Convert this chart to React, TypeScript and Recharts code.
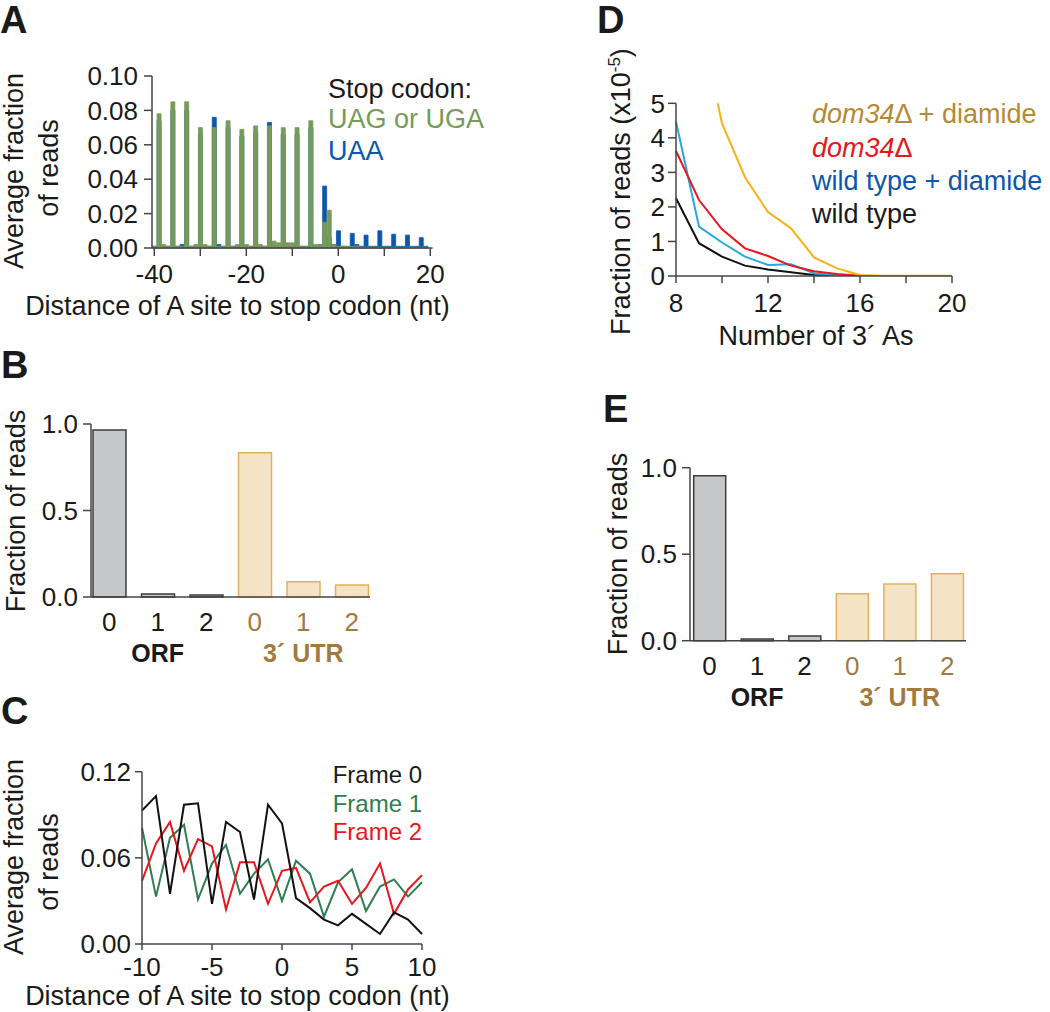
import { BarChart, Bar, LineChart, Line, XAxis, YAxis, Cell } from "recharts";

const FONT = '"Liberation Sans", Arial, Helvetica, sans-serif';
const INK = "#1a1a1a";
const AXIS = "#444";

// ---- Panel A: reads around stop codon, by stop codon type ----
const stopDistance = [
  -40, -39, -38, -37, -36, -35, -34, -33, -32, -31, -30, -29, -28, -27, -26, -25,
  -24, -23, -22, -21, -20, -19, -18, -17, -16, -15, -14, -13, -12, -11, -10, -9,
  -8, -7, -6, -5, -4, -3, -2, -1, 0, 1, 2, 3, 4, 5, 6, 7, 8, 9, 10, 11, 12, 13,
  14, 15, 16, 17, 18, 19, 20,
];
const uagUga = [
  0.001, 0.078, 0.002, 0.001, 0.085, 0.001, 0.001, 0.085, 0.001, 0.002, 0.07, 0.002,
  0.001, 0.07, 0.001, 0.001, 0.074, 0.001, 0.002, 0.069, 0.002, 0.001, 0.071, 0.002,
  0.001, 0.071, 0.004, 0.003, 0.07, 0.003, 0.003, 0.07, 0.001, 0.001, 0.074, 0.002,
  0.002, 0.015, 0.022, 0.002, 0.001, 0.001, 0.0008, 0.0008, 0.001, 0.0005, 0.0005,
  0.0005, 0.0005, 0.0005, 0.0005, 0.0005, 0.0005, 0.0005, 0.0005, 0.0005, 0.0005,
  0.0005, 0.0005, 0.0005, 0,
];
const uaa = [
  0.001, 0.074, 0.001, 0.001, 0.08, 0.001, 0.002, 0.08, 0.001, 0.001, 0.066, 0.001,
  0.001, 0.076, 0.002, 0.001, 0.07, 0.001, 0.001, 0.065, 0.001, 0.001, 0.067, 0.001,
  0.001, 0.073, 0.002, 0.001, 0.066, 0.001, 0.001, 0.066, 0.001, 0.001, 0.07, 0.001,
  0.002, 0.036, 0.006, 0.002, 0.01, 0.001, 0.001, 0.0085, 0.002, 0.001, 0.0075, 0.001,
  0.001, 0.01, 0.001, 0.001, 0.008, 0.001, 0.001, 0.0075, 0.001, 0.001, 0.006, 0.001, 0,
];
const fractionTicksA = [0, 0.02, 0.04, 0.06, 0.08, 0.1];
const distanceTicksA = [-40, -30, -20, -10, 0, 10, 20];
const distanceLabelsA = [-40, -20, 0, 20];

// ---- Panels B & E: reading frame ----
const frameLabels = ["0", "1", "2", "0", "1", "2"];
const frameGroups = ["ORF", "ORF", "ORF", "3´ UTR", "3´ UTR", "3´ UTR"];
const frameFractionB = [0.965, 0.017, 0.012, 0.834, 0.088, 0.069];
const frameFractionE = [0.954, 0.01, 0.027, 0.272, 0.328, 0.387];
const fractionTicksBE = [0, 0.5, 1];

// ---- Panel C: frames around stop codon ----
const distanceC = [-10, -9, -8, -7, -6, -5, -4, -3, -2, -1, 0, 1, 2, 3, 4, 5, 6, 7, 8, 9, 10];
const frame0 = [
  0.093, 0.103, 0.035, 0.097, 0.098, 0.028, 0.085, 0.078, 0.031, 0.097, 0.084, 0.032,
  0.025, 0.017, 0.013, 0.021, 0.014, 0.007, 0.022, 0.017, 0.007,
];
const frame1 = [
  0.081, 0.033, 0.074, 0.083, 0.031, 0.056, 0.069, 0.035, 0.049, 0.059, 0.03, 0.058,
  0.049, 0.019, 0.043, 0.052, 0.023, 0.04, 0.045, 0.033, 0.043,
];
const frame2 = [
  0.044, 0.07, 0.085, 0.051, 0.073, 0.068, 0.024, 0.057, 0.057, 0.028, 0.051, 0.053,
  0.029, 0.04, 0.044, 0.028, 0.039, 0.056, 0.021, 0.038, 0.048,
];
const fractionTicksC = [0, 0.06, 0.12];
const distanceTicksC = [-10, -5, 0, 5, 10];

// ---- Panel D: poly(A) length ----
const numberOfAs = [8, 9, 10, 11, 12, 13, 14, 15, 16, 17, 18, 19, 20];
const dom34Diamide = [12, 7.5, 4.42, 2.86, 1.85, 1.38, 0.54, 0.22, 0.03, 0.01, 0.01, 0.01, 0.01];
const dom34 = [3.62, 2.2, 1.35, 0.8, 0.58, 0.3, 0.14, 0.06, 0.01, 0, 0, 0, 0];
const wildTypeDiamide = [4.47, 1.43, 0.97, 0.56, 0.32, 0.34, 0.08, 0.02, 0, 0, 0, 0, 0];
const wildType = [2.25, 0.95, 0.56, 0.3, 0.19, 0.11, 0.03, 0.01, 0, 0, 0, 0, 0];
const readTicksD = [0, 1, 2, 3, 4, 5];
const asTicksD = [8, 10, 12, 14, 16, 18, 20];
const asLabelsD = [8, 12, 16, 20];

const groupStyle: Record<string, { fill: string; stroke: string; text: string }> = {
  ORF: { fill: "#c6c7c9", stroke: "#3c3c3c", text: INK },
  "3´ UTR": { fill: "#f4e4c5", stroke: "#e2b15c", text: "#a27a3e" },
};

const dataA = stopDistance.map((d, i) => ({ d, green: uagUga[i], blue: uaa[i] }));
const frameData = (vals: number[]) =>
  frameLabels.map((f, i) => ({ key: `${frameGroups[i]}-${f}`, value: vals[i] }));
const dataB = frameData(frameFractionB);
const dataE = frameData(frameFractionE);
const dataC = distanceC.map((d, i) => ({ d, f0: frame0[i], f1: frame1[i], f2: frame2[i] }));
const dataD = numberOfAs.map((n, i) => ({
  n,
  dd: dom34Diamide[i],
  dm: dom34[i],
  wd: wildTypeDiamide[i],
  wt: wildType[i],
}));

const TICK_FS = 26;
const tickText = { fill: INK, fontSize: TICK_FS };
const axisLine = { stroke: AXIS, strokeWidth: 1.5 };
const tickLine = { stroke: AXIS, strokeWidth: 1.5 };

function DistanceTickA(p: any) {
  const v = p.payload.value;
  if (!distanceTicksA.includes(v)) return <g />;
  return (
    <g>
      <line x1={p.x} x2={p.x} y1={p.y} y2={p.y + 8} stroke={AXIS} strokeWidth={1.5} />
      {distanceLabelsA.includes(v) && (
        <text x={p.x} y={p.y + 35} textAnchor="middle" fontSize={TICK_FS} fill={INK}>
          {v}
        </text>
      )}
    </g>
  );
}

function makeFrameTick(data: { key: string }[]) {
  return (p: any) => {
    const i = data.findIndex((d) => d.key === p.payload.value);
    const g = frameGroups[i];
    const st = groupStyle[g];
    const mid = frameGroups[i - 1] === g && frameGroups[i + 1] === g;
    return (
      <g>
        <text x={p.x} y={p.y + 34} textAnchor="middle" fontSize={TICK_FS} fill={st.text}>
          {frameLabels[i]}
        </text>
        {mid && (
          <text x={p.x} y={p.y + 65} textAnchor="middle" fontSize={25} fontWeight="bold" fill={st.text}>
            {g}
          </text>
        )}
      </g>
    );
  };
}

function FrameBars({
  data,
  width,
  height,
  margin,
  yWidth,
  xHeight,
  pad,
  barSize,
}: {
  data: { key: string; value: number }[];
  width: number;
  height: number;
  margin: any;
  yWidth: number;
  xHeight: number;
  pad: { left: number; right: number };
  barSize: number;
}) {
  return (
    <BarChart width={width} height={height} data={data} margin={margin}>
      <XAxis
        dataKey="key"
        height={xHeight}
        interval={0}
        tickSize={0}
        tickMargin={0}
        tickLine={false}
        axisLine={axisLine}
        padding={pad}
        tick={makeFrameTick(data)}
      />
      <YAxis
        domain={[0, 1]}
        ticks={fractionTicksBE}
        interval={0}
        width={yWidth}
        tickSize={8}
        tickMargin={5}
        tickFormatter={(v: number) => v.toFixed(1)}
        tick={tickText}
        axisLine={axisLine}
        tickLine={tickLine}
      />
      <Bar dataKey="value" barSize={barSize} strokeWidth={1.5} isAnimationActive={false}>
        {data.map((d, i) => (
          <Cell
            key={d.key}
            fill={groupStyle[frameGroups[i]].fill}
            stroke={groupStyle[frameGroups[i]].stroke}
          />
        ))}
      </Bar>
    </BarChart>
  );
}

const abs = (left: number, top: number) =>
  ({ position: "absolute", left, top } as React.CSSProperties);

export default function App() {
  return (
    <div
      style={{
        position: "absolute",
        left: 0,
        top: 0,
        width: 1050,
        height: 1012,
        background: "#fff",
        fontFamily: FONT,
        color: INK,
      }}
    >
      {/* A */}
      <div style={abs(0, 0)}>
        <BarChart width={480} height={330} data={dataA} margin={{ top: 76, right: 47.4, bottom: 0, left: 0 }}>
          <XAxis
            xAxisId="a"
            dataKey="d"
            height={82}
            interval={0}
            tickSize={0}
            tickMargin={0}
            tickLine={false}
            axisLine={axisLine}
            tick={DistanceTickA}
          />
          <XAxis xAxisId="b" dataKey="d" hide />
          <YAxis
            domain={[0, 0.1]}
            ticks={fractionTicksA}
            interval={0}
            width={152}
            tickSize={8}
            tickMargin={6}
            tickFormatter={(v: number) => v.toFixed(2)}
            tick={tickText}
            axisLine={axisLine}
            tickLine={tickLine}
          />
          <Bar
            xAxisId="b"
            dataKey="blue"
            fill="#0b57ae"
            stroke="#0b57ae"
            strokeWidth={0.8}
            isAnimationActive={false}
          />
          <Bar
            xAxisId="a"
            dataKey="green"
            fill="#779a5b"
            stroke="#779a5b"
            strokeWidth={0.8}
            isAnimationActive={false}
          />
        </BarChart>
      </div>

      {/* B */}
      <div style={abs(0, 330)}>
        <FrameBars
          data={dataB}
          width={480}
          height={345}
          margin={{ top: 94, right: 110, bottom: 0, left: 0 }}
          yWidth={91}
          xHeight={78}
          pad={{ left: -6, right: -6 }}
          barSize={33}
        />
      </div>

      {/* C */}
      <div style={abs(0, 680)}>
        <LineChart width={480} height={332} data={dataC} margin={{ top: 91.7, right: 58, bottom: 0, left: 0 }}>
          <XAxis
            dataKey="d"
            type="number"
            domain={[-10, 10]}
            ticks={distanceTicksC}
            interval={0}
            height={68}
            tickSize={6}
            tickMargin={8}
            tick={tickText}
            axisLine={axisLine}
            tickLine={tickLine}
          />
          <YAxis
            domain={[0, 0.12]}
            ticks={fractionTicksC}
            interval={0}
            width={142}
            tickSize={7}
            tickMargin={4}
            tickFormatter={(v: number) => v.toFixed(2)}
            tick={tickText}
            axisLine={axisLine}
            tickLine={tickLine}
          />
          <Line dataKey="f1" stroke="#2f7d50" strokeWidth={2} dot={false} isAnimationActive={false} />
          <Line dataKey="f2" stroke="#e8161d" strokeWidth={2} dot={false} isAnimationActive={false} />
          <Line dataKey="f0" stroke="#111" strokeWidth={2} dot={false} isAnimationActive={false} />
        </LineChart>
      </div>

      {/* D */}
      <div style={abs(520, 0)}>
        <LineChart width={530} height={360} data={dataD} margin={{ top: 103.3, right: 98, bottom: 0, left: 0 }}>
          <XAxis
            dataKey="n"
            type="number"
            domain={[8, 20]}
            ticks={asTicksD}
            interval={0}
            height={84}
            tickSize={7}
            tickMargin={11}
            tickFormatter={(v: number) => (asLabelsD.includes(v) ? String(v) : "")}
            tick={tickText}
            axisLine={axisLine}
            tickLine={tickLine}
          />
          <YAxis
            domain={[0, 5]}
            ticks={readTicksD}
            interval={0}
            allowDataOverflow
            width={156}
            tickSize={8}
            tickMargin={3}
            tick={tickText}
            axisLine={axisLine}
            tickLine={tickLine}
          />
          <Line dataKey="wt" stroke="#111" strokeWidth={2} dot={false} isAnimationActive={false} />
          <Line dataKey="wd" stroke="#27a6e1" strokeWidth={2} dot={false} isAnimationActive={false} />
          <Line dataKey="dm" stroke="#e8161d" strokeWidth={2} dot={false} isAnimationActive={false} />
          <Line dataKey="dd" stroke="#fbb017" strokeWidth={2} dot={false} isAnimationActive={false} />
        </LineChart>
      </div>

      {/* E */}
      <div style={abs(520, 360)}>
        <FrameBars
          data={dataE}
          width={530}
          height={360}
          margin={{ top: 107.7, right: 84, bottom: 0, left: 0 }}
          yWidth={170}
          xHeight={79.3}
          pad={{ left: -4.3, right: -5 }}
          barSize={32}
        />
      </div>

      {/* titles, legends and panel letters */}
      <svg
        width={1050}
        height={1012}
        style={{ position: "absolute", left: 0, top: 0, pointerEvents: "none" }}
        fontFamily={FONT}
        fill={INK}
      >
        <g fontSize={38} fontWeight="bold">
          <text x={0} y={33}>A</text>
          <text x={1} y={378}>B</text>
          <text x={1} y={724}>C</text>
          <text x={597} y={33}>D</text>
          <text x={603} y={422}>E</text>
        </g>
        <g fontSize={27}>
          {/* A */}
          <text transform="translate(23,171) rotate(-90)" textAnchor="middle">Average fraction</text>
          <text transform="translate(58,168) rotate(-90)" textAnchor="middle">of reads</text>
          <text x={237.5} y={315} textAnchor="middle">Distance of A site to stop codon (nt)</text>
          <text x={328} y={98}>Stop codon:</text>
          <text x={328} y={128} fill="#779a5b">UAG or UGA</text>
          <text x={328} y={160} fill="#0b57ae">UAA</text>
          {/* B */}
          <text transform="translate(25,511) rotate(-90)" textAnchor="middle">Fraction of reads</text>
          {/* C */}
          <text transform="translate(23,857) rotate(-90)" textAnchor="middle">Average fraction</text>
          <text transform="translate(58,862) rotate(-90)" textAnchor="middle">of reads</text>
          <text x={237.5} y={1005} textAnchor="middle">Distance of A site to stop codon (nt)</text>
          {/* D */}
          <text transform="translate(630,191.5) rotate(-90)" textAnchor="middle">
            Fraction of reads (x10
            <tspan dy={-10} fontSize={17}>-5</tspan>
            <tspan dy={10}>)</tspan>
          </text>
          <text x={816} y={345} textAnchor="middle">Number of 3´ As</text>
          <text x={812} y={123} fill="#b38a36">
            <tspan fontStyle="italic">dom34</tspan>Δ + diamide
          </text>
          <text x={812} y={157} fill="#e8161d">
            <tspan fontStyle="italic">dom34</tspan>Δ
          </text>
          <text x={812} y={190} fill="#0d56ac">wild type + diamide</text>
          <text x={812} y={223}>wild type</text>
          {/* E */}
          <text transform="translate(627,554) rotate(-90)" textAnchor="middle">Fraction of reads</text>
        </g>
        <g fontSize={24} textAnchor="end">
          <text x={422} y={783}>Frame 0</text>
          <text x={422} y={812} fill="#2f7d50">Frame 1</text>
          <text x={422} y={840} fill="#e8161d">Frame 2</text>
        </g>
      </svg>
    </div>
  );
}
